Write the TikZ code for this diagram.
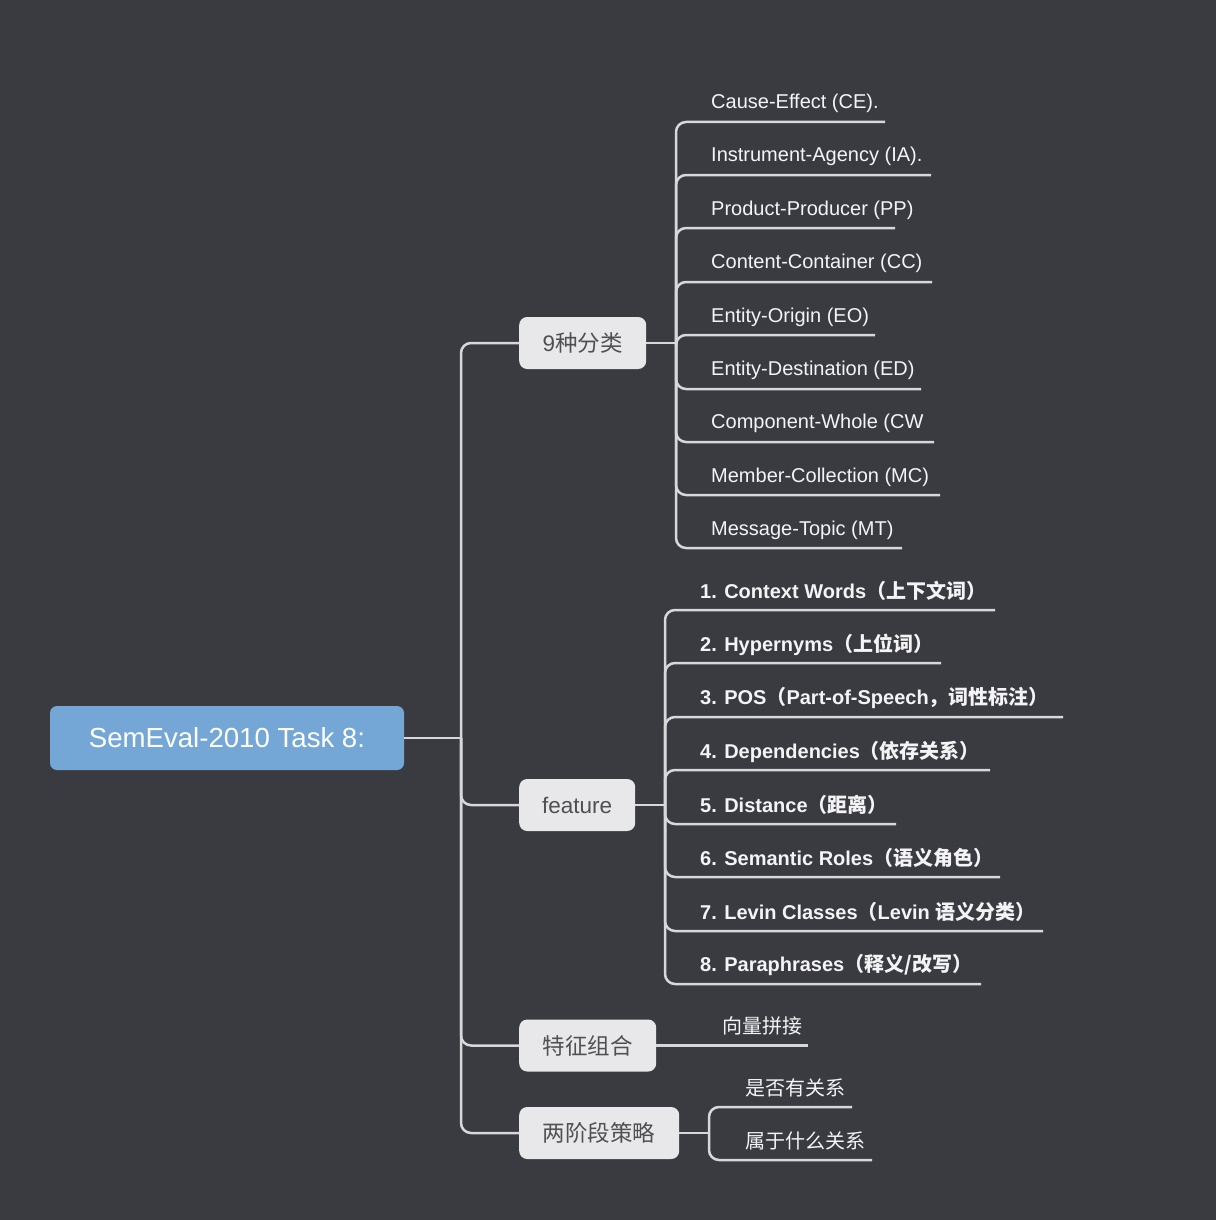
\documentclass[tikz,border=0pt]{standalone}
\usepackage{fontspec}
\setmainfont{Liberation Sans}
\newfontfamily\cjk{Noto Sans CJK SC}
\definecolor{bg}{RGB}{58,59,64}
\definecolor{rootfill}{RGB}{116,167,214}
\definecolor{subfill}{RGB}{232,232,234}
\definecolor{subtext}{RGB}{80,80,84}
\definecolor{linec}{RGB}{216,216,218}
\definecolor{leaftext}{RGB}{244,244,246}
\tikzset{
  rootbox/.style={draw=none, fill=rootfill, rounded corners=7pt, text=white, minimum width=354pt, minimum height=64pt, inner sep=0pt, font=\fontsize{27.6}{32}\selectfont},
  subbox/.style={draw=none, fill=subfill, rounded corners=8pt, text=subtext, minimum height=52pt, inner sep=0pt, font=\fontsize{22.5}{27}\selectfont, anchor=west},
  leaf/.style={anchor=west, inner sep=0pt, text=leaftext, font=\fontsize{20}{24}\selectfont, yshift=-2pt},
  bleaf/.style={leaf, font=\fontsize{20}{24}\selectfont\bfseries},
  conn/.style={draw=linec, line width=2.5pt, rounded corners=10pt},
}
\begin{document}
\begin{tikzpicture}[x=1pt,y=-1pt]
\fill[bg] (0,0) rectangle (1216,1220);
\useasboundingbox (0,0) rectangle (1216,1220);

\node[rootbox] (root) at (227,738) {SemEval-2010 Task 8:};
\node[subbox, minimum width=127pt] (p1) at (519,343) {9{\cjk 种分类}};
\node[subbox, minimum width=116pt] (p2) at (519,805) {feature};
\node[subbox, minimum width=137pt] (p3) at (519,1045.5) {\cjk 特征组合};
\node[subbox, minimum width=160pt] (p4) at (519,1133) {\cjk 两阶段策略};

\coordinate (j0) at (461,738);
\draw[conn] (root.east) -- (j0);
\foreach \p in {p1,p2,p3,p4}{\draw[conn] (j0) |- (\p.west);}

% group 1
\coordinate (j1) at (676,343);
\draw[conn] (p1.east) -- (j1);
\node[leaf] (a1) at (711,101) {Cause-Effect (CE).};
\node[leaf] (a2) at (711,154) {Instrument-Agency (IA).};
\node[leaf] (a3) at (711,208) {Product-Producer (PP)};
\node[leaf] (a4) at (711,261) {Content-Container (CC)};
\node[leaf] (a5) at (711,315) {Entity-Origin (EO)};
\node[leaf] (a6) at (711,368) {Entity-Destination (ED)};
\node[leaf] (a7) at (711,421) {Component-Whole (CW};
\node[leaf] (a8) at (711,475) {Member-Collection (MC)};
\node[leaf] (a9) at (711,528) {Message-Topic (MT)};
\coordinate (a1e) at (885,122);
\coordinate (a2e) at (931,175);
\coordinate (a3e) at (895,228);
\coordinate (a4e) at (932,282);
\coordinate (a5e) at (875,335);
\coordinate (a6e) at (921,389);
\coordinate (a7e) at (934,442);
\coordinate (a8e) at (940,495);
\coordinate (a9e) at (902,548);
\foreach \e in {a1e,a2e,a3e,a4e,a5e,a6e,a7e,a8e,a9e}{\draw[conn] (j1) |- (\e);}

% group 2
\coordinate (j2) at (665,805);
\draw[conn] (p2.east) -- (j2);
\node[bleaf] (b1) at (700,589) {1. Context Words{\cjk （上下文词）}};
\node[bleaf] (b2) at (700,643) {2. Hypernyms{\cjk （上位词）}};
\node[bleaf] (b3) at (700,696) {3. POS{\cjk （}Part-of-Speech{\cjk ，词性标注）}};
\node[bleaf] (b4) at (700,750) {4. Dependencies{\cjk （依存关系）}};
\node[bleaf] (b5) at (700,803) {5. Distance{\cjk （距离）}};
\node[bleaf] (b6) at (700,856) {6. Semantic Roles{\cjk （语义角色）}};
\node[bleaf] (b7) at (700,910) {7. Levin Classes{\cjk （}Levin {\cjk 语义分类）}};
\node[bleaf] (b8) at (700,963) {8. Paraphrases{\cjk （释义/改写）}};
\coordinate (b1e) at (995,610);
\coordinate (b2e) at (941,663);
\coordinate (b3e) at (1063,717);
\coordinate (b4e) at (990,770);
\coordinate (b5e) at (896,824);
\coordinate (b6e) at (1000,877);
\coordinate (b7e) at (1043,931);
\coordinate (b8e) at (981,984);
\foreach \e in {b1e,b2e,b3e,b4e,b5e,b6e,b7e,b8e}{\draw[conn] (j2) |- (\e);}

% group 3
\node[leaf] (c1) at (722,1024) {\cjk 向量拼接};
\coordinate (c1e) at (808,1045.5);
\draw[conn] (p3.east) -- (c1e);

% group 4
\coordinate (j4) at (709,1133);
\draw[conn] (p4.east) -- (j4);
\node[leaf] (d1) at (745,1086) {\cjk 是否有关系};
\node[leaf] (d2) at (745,1139) {\cjk 属于什么关系};
\coordinate (d1e) at (852,1107);
\coordinate (d2e) at (872,1160);
\foreach \e in {d1e,d2e}{\draw[conn] (j4) |- (\e);}
\end{tikzpicture}
\end{document}
